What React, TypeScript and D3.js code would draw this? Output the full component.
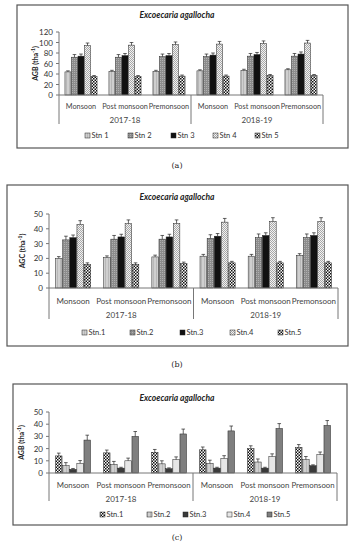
import React from 'react';
import * as d3 from 'd3';

const seasons = ['Monsoon', 'Post monsoon', 'Premonsoon'];
const years = ['2017-18', '2018-19'];

// rows: 2017-18 (Monsoon, Post, Pre), 2018-19 (Monsoon, Post, Pre); columns: Stn 1..5
const agbA = [
  [44, 72, 74, 94, 35],
  [45, 72, 75, 95, 35],
  [45, 73, 75, 96, 36],
  [46, 73, 76, 97, 36],
  [47, 74, 77, 98, 37],
  [48, 74, 78, 99, 37],
];
const errA = [2, 5, 4, 5, 2];

const agcB = [
  [20, 32.5, 34, 43, 16],
  [20.5, 33, 34.5, 43.5, 16],
  [21, 33, 34.5, 43.5, 16.5],
  [21.5, 33.5, 35, 44.5, 17],
  [21.5, 34, 35.5, 45, 17],
  [22, 34, 35.5, 45, 17],
];
const errB = [1.2, 2.5, 1.8, 2.5, 1];

const agbC = [
  [14, 6, 3, 8, 27],
  [16.5, 7, 4, 10, 30],
  [17, 7.5, 3.5, 11, 32],
  [19, 8, 4, 12, 34.5],
  [20, 9, 4, 13.5, 36.5],
  [21, 11, 6, 15, 39],
];
const errC = [2.3, 2.5, 0.7, 2.2, 4];

const labelsA = ['Stn 1', 'Stn 2', 'Stn 3', 'Stn 4', 'Stn 5'];
const labelsB = ['Stn.1', 'Stn.2', 'Stn.3', 'Stn.4', 'Stn.5'];

const font = 'Lato, "Open Sans", sans-serif';

const panels = [
  {
    box: [17, 5, 331, 143], title: 15, plot: [59, 323, 32, 95], yMax: 120, step: 20,
    yLabel: 'AGB', labelX: 38, catY: 106, yearY: 120, sepY: 124, catSize: 7.3,
    legendY: 136, legendX: [85, 128, 171, 213, 255],
    data: agbA, err: errA, labels: labelsA,
    fills: ['url(#stripe)', 'url(#dotgray)', '#111', 'url(#finecheck)', 'url(#checker)'],
    caption: '(a)', capY: 165,
  },
  {
    box: [7, 185, 341, 161], title: 197, plot: [49, 338, 214, 288], yMax: 50, step: 10,
    yLabel: 'AGC', labelX: 25, catY: 301, yearY: 315, sepY: 319, catSize: 8,
    legendY: 333, legendX: [82, 130, 180, 230, 278],
    data: agcB, err: errB, labels: labelsB,
    fills: ['url(#stripe)', 'url(#dotgray)', '#111', 'url(#finecheck)', 'url(#checker)'],
    caption: '(b)', capY: 364,
  },
  {
    box: [13, 384, 334, 141], title: 398, plot: [49, 337, 412, 473], yMax: 50, step: 10,
    yLabel: 'AGB', labelX: 24, catY: 485, yearY: 499, sepY: 501, catSize: 7.8,
    legendY: 515, legendX: [100, 147, 183, 227, 267],
    data: agbC, err: errC, labels: labelsB,
    fills: ['url(#checker)', 'url(#stripe)', '#3a3a3a', '#e6e6e6', '#7f7f7f'],
    caption: '(c)', capY: 537,
  },
];

function Panel({ p }: { p: any }) {
  const [left, right, top, bottom] = p.plot;
  const y = d3.scaleLinear().domain([0, p.yMax]).range([bottom, top]);
  const ticks = d3.range(0, p.yMax + 1, p.step);
  const cats = d3.range(6);
  const x0 = d3.scaleBand<number>().domain(cats).range([left, right]).paddingInner(0.27).paddingOuter(0.135);
  const x1 = d3.scaleBand<number>().domain(d3.range(5)).range([0, x0.bandwidth()]).paddingInner(0.08);
  const mid = (left + right) / 2;
  const yc = (top + bottom) / 2;
  return (
    <g>
      <rect x={p.box[0]} y={p.box[1]} width={p.box[2]} height={p.box[3]} fill="white" stroke="#555" strokeWidth={1.2} />
      <text x={177} y={p.title + 3} textAnchor="middle" fontSize={8.5} fontStyle="italic" fontWeight="bold" fill="#222">
        Excoecaria agallocha
      </text>
      <text transform={`translate(${p.labelX},${yc}) rotate(-90)`} textAnchor="middle" fontSize={7} fontWeight="bold" fill="#222">
        {p.yLabel} (tha<tspan dy={-3} fontSize={5}>-1</tspan><tspan dy={3}>)</tspan>
      </text>
      <line x1={left} x2={left} y1={top} y2={bottom} stroke="#777" />
      {ticks.map(t => (
        <g key={t}>
          <line x1={left - 3} x2={left} y1={y(t)} y2={y(t)} stroke="#777" />
          <text x={left - 6} y={y(t) + 3} textAnchor="end" fontSize={8} fill="#333">{t}</text>
        </g>
      ))}
      {p.data.map((row: number[], i: number) => (
        <g key={i}>
          {row.map((v, s) => {
            const bx = (x0(i) as number) + (x1(s) as number);
            const bw = x1.bandwidth();
            const cx = bx + bw / 2;
            const ey = y(v + p.err[s]);
            return (
              <g key={s}>
                <rect x={bx} y={y(v)} width={bw} height={bottom - y(v)} fill={p.fills[s]} stroke="#222" strokeWidth={0.5} />
                <line x1={cx} x2={cx} y1={y(v)} y2={ey} stroke="#222" strokeWidth={0.7} />
                <line x1={cx - 1.8} x2={cx + 1.8} y1={ey} y2={ey} stroke="#222" strokeWidth={0.7} />
              </g>
            );
          })}
          <text x={(x0(i) as number) + x0.bandwidth() / 2} y={p.catY + 3} textAnchor="middle" fontSize={p.catSize} fill="#444">
            {seasons[i % 3]}
          </text>
        </g>
      ))}
      <line x1={left} x2={right} y1={bottom} y2={bottom} stroke="#777" />
      {[left, mid, right].map((sx, k) => (
        <line key={k} x1={sx} x2={sx} y1={bottom} y2={p.sepY} stroke="#777" />
      ))}
      {years.map((yr, k) => (
        <text key={yr} x={left + (right - left) * (k * 2 + 1) / 4} y={p.yearY + 3} textAnchor="middle" fontSize={8} fill="#444">{yr}</text>
      ))}
      {p.labels.map((l: string, s: number) => (
        <g key={l}>
          <rect x={p.legendX[s]} y={p.legendY - 3} width={5} height={5} fill={p.fills[s]} stroke="#222" strokeWidth={0.5} />
          <text x={p.legendX[s] + 6.5} y={p.legendY + 2} fontSize={7.5} fill="#333">{l}</text>
        </g>
      ))}
      <text x={177} y={p.capY + 3} textAnchor="middle" fontSize={8} fontFamily="'DejaVu Serif', serif" fill="#222">{p.caption}</text>
    </g>
  );
}

export default function App() {
  return (
    <svg width={354} height={550} style={{ position: 'absolute', left: 0, top: 0, background: 'white' }} fontFamily={font}>
      <defs>
        <pattern id="stripe" width={3} height={3} patternUnits="userSpaceOnUse">
          <rect width={3} height={3} fill="#cfcfcf" />
          <line x1={0.5} x2={0.5} y1={0} y2={3} stroke="#a8a8a8" strokeWidth={0.6} />
        </pattern>
        <pattern id="dotgray" width={2} height={2} patternUnits="userSpaceOnUse">
          <rect width={2} height={2} fill="#8c8c8c" />
          <rect width={1} height={1} fill="#b0b0b0" />
        </pattern>
        <pattern id="finecheck" width={2} height={2} patternUnits="userSpaceOnUse">
          <rect width={2} height={2} fill="#f2f2f2" />
          <rect width={1} height={1} fill="#a8a8a8" />
          <rect x={1} y={1} width={1} height={1} fill="#a8a8a8" />
        </pattern>
        <pattern id="checker" width={3} height={3} patternUnits="userSpaceOnUse">
          <rect width={3} height={3} fill="#fafafa" />
          <rect width={1.5} height={1.5} fill="#111" />
          <rect x={1.5} y={1.5} width={1.5} height={1.5} fill="#111" />
        </pattern>
      </defs>
      {panels.map((p, k) => <Panel key={k} p={p} />)}
    </svg>
  );
}
